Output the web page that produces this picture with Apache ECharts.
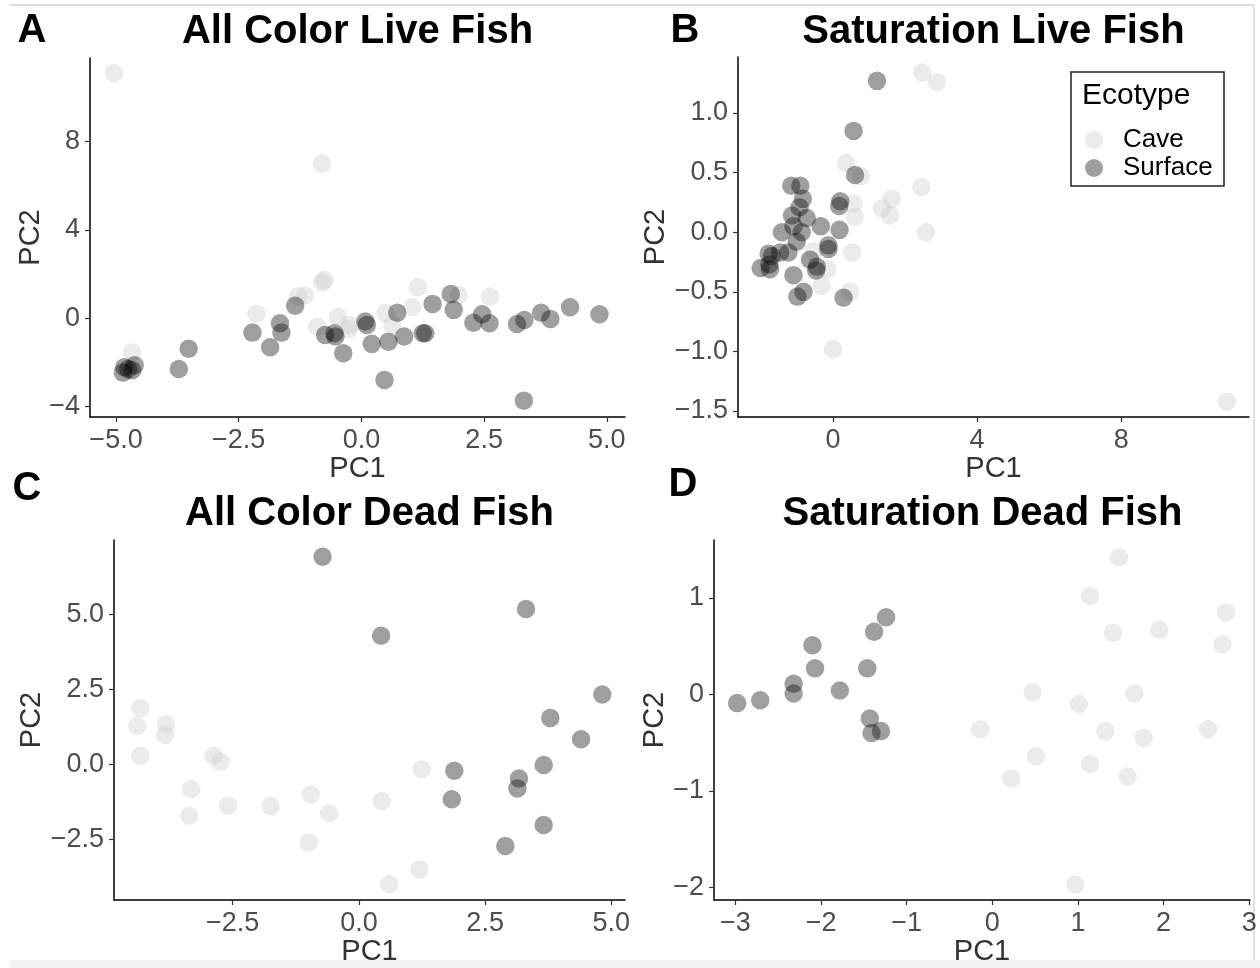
<!DOCTYPE html>
<html>
<head>
<meta charset="utf-8">
<script src="https://cdn.jsdelivr.net/npm/echarts@6.0.0/dist/echarts.min.js"></script>
<style>
  html, body { margin: 0; padding: 0; background: #fff; }
  #main { width: 1260px; height: 968px; }
</style>
</head>
<body>
<div id="main"></div>
<script>
// A: all color, live fish  [PC1, PC2]
var liveAllCave = [[-5.04, 11.1], [-0.81, 7.0], [-0.75, 1.73], [-0.80, 1.62], [-1.29, 0.99], [-1.15, 1.03],
  [-2.14, 0.2], [-0.90, -0.38], [-0.48, 0.07], [-0.24, -0.3], [-0.26, -0.5], [0.49, 0.24], [0.63, -0.3],
  [1.03, 0.51], [1.15, 1.4], [1.98, 1.05], [2.62, 0.98], [-4.67, -1.55]];
var liveAllSurface = [[-4.86, -2.46], [-4.83, -2.22], [-4.75, -2.3], [-4.67, -2.35], [-4.62, -2.13], [-3.72, -2.3],
  [-3.52, -1.38], [-2.22, -0.65], [-1.86, -1.31], [-1.66, -0.23], [-1.63, -0.65], [-1.35, 0.57], [-0.74, -0.76],
  [-0.55, -0.68], [-0.53, -0.83], [-0.37, -1.58], [0.08, -0.15], [0.11, -0.3], [0.21, -1.16], [0.47, -2.79],
  [0.55, -1.06], [0.73, 0.25], [0.87, -0.83], [1.25, -0.68], [1.30, -0.68], [1.45, 0.65], [1.82, 1.1], [1.88, 0.38],
  [2.28, -0.2], [2.46, 0.18], [2.61, -0.23], [3.17, -0.26], [3.31, -3.73], [3.32, -0.08], [3.66, 0.25],
  [3.85, -0.03], [4.25, 0.5], [4.85, 0.18]];

// B: saturation, live fish
var liveSatCave = [[2.48, 1.34], [2.88, 1.26], [10.94, -1.42], [0.36, 0.58], [0.77, 0.47], [2.45, 0.38], [1.63, 0.28],
  [1.36, 0.2], [1.58, 0.14], [0.57, 0.24], [0.6, 0.13], [2.58, 0.0], [0.53, -0.17], [0.0, -0.98], [0.47, -0.5],
  [-0.32, -0.45], [-0.16, -0.31], [-0.54, -0.16]];
var liveSatSurface = [[1.22, 1.27], [0.57, 0.85], [0.61, 0.48], [-1.16, 0.39], [-0.91, 0.39], [-0.84, 0.28],
  [-0.93, 0.21], [0.20, 0.26], [0.17, 0.22], [-1.14, 0.14], [-0.73, 0.12], [-1.10, 0.05], [-0.34, 0.05], [0.18, 0.02],
  [-1.42, 0.0], [-0.87, 0.0], [-1.01, -0.08], [-0.13, -0.11], [-0.13, -0.14], [-1.47, -0.17], [-1.24, -0.17],
  [-1.79, -0.18], [-1.70, -0.2], [-2.01, -0.3], [-1.77, -0.27], [-1.75, -0.31], [-0.64, -0.23], [-0.45, -0.29],
  [-0.47, -0.32], [-1.10, -0.36], [-0.82, -0.5], [-0.99, -0.54], [0.29, -0.55]];

// C: all color, dead fish
var deadAllCave = [[-4.33, 1.86], [-4.39, 1.27], [-3.82, 1.32], [-3.84, 0.97], [-4.33, 0.28], [-2.88, 0.28],
  [-2.74, 0.08], [-3.32, -0.83], [-3.36, -1.72], [-2.59, -1.39], [-1.75, -1.4], [-0.95, -1.01], [-0.59, -1.64],
  [-0.99, -2.61], [0.45, -1.23], [1.24, -0.17], [1.2, -3.51], [0.6, -4.0]];
var deadAllSurface = [[-0.72, 6.91], [0.44, 4.28], [3.31, 5.17], [4.82, 2.32], [3.79, 1.54], [4.40, 0.83],
  [3.66, -0.03], [1.89, -0.22], [3.17, -0.48], [3.14, -0.81], [1.84, -1.17], [3.66, -2.03], [2.90, -2.73]];

// D: saturation, dead fish
var deadSatCave = [[1.48, 1.42], [1.14, 1.02], [2.73, 0.85], [2.69, 0.52], [1.41, 0.64], [1.95, 0.67], [0.47, 0.02],
  [1.66, 0.01], [1.01, -0.1], [-0.14, -0.36], [1.32, -0.38], [1.77, -0.45], [2.52, -0.36], [0.51, -0.64],
  [1.14, -0.72], [1.58, -0.85], [0.22, -0.87], [0.97, -1.97]];
var deadSatSurface = [[-2.98, -0.09], [-2.71, -0.06], [-2.32, 0.11], [-2.32, 0.01], [-2.10, 0.51], [-2.07, 0.27],
  [-1.78, 0.04], [-1.46, 0.27], [-1.38, 0.65], [-1.24, 0.8], [-1.43, -0.25], [-1.41, -0.4], [-1.30, -0.38]];

// tick values
var ticksAx = [-5, -2.5, 0, 2.5, 5], ticksAy = [-4, 0, 4, 8];
var ticksBx = [0, 4, 8], ticksBy = [-1.5, -1, -0.5, 0, 0.5, 1];
var ticksCx = [-2.5, 0, 2.5, 5], ticksCy = [-2.5, 0, 2.5, 5];
var ticksDx = [-3, -2, -1, 0, 1, 2, 3], ticksDy = [-2, -1, 0, 1];

var FONT = 'Liberation Sans, Arial, sans-serif';
var caveColor = 'rgba(204,204,204,0.5)';
var surfColor = 'rgba(0,0,0,0.47)';

function fmt (v, dec) {
  var s = Math.abs(v).toFixed(dec);
  return v < 0 ? '\u2212' + s : s;
}

function makeAxis (idx, min, max, ticks, dec, name, gap) {
  return {
    type: 'value', gridIndex: idx, min: min, max: max,
    name: name, nameLocation: 'middle', nameGap: gap,
    nameTextStyle: { fontFamily: FONT, fontSize: 29, color: '#333' },
    splitLine: { show: false },
    axisLine: { show: true, onZero: false, lineStyle: { color: '#000', width: 1.5 } },
    axisTick: { show: true, customValues: ticks, length: 5, lineStyle: { color: '#333', width: 1.2 } },
    axisLabel: {
      customValues: ticks, margin: 10, fontFamily: FONT, fontSize: 27, color: '#4d4d4d',
      formatter: function (v) { return fmt(v, dec); }
    }
  };
}

function scatter (name, idx, data, color) {
  return {
    type: 'scatter', name: name, xAxisIndex: idx, yAxisIndex: idx, data: data,
    symbol: 'circle', symbolSize: 18.5,
    itemStyle: { color: color },
    emphasis: { disabled: true }
  };
}

function label (text, x, y, size) {
  return {
    type: 'text', x: x, y: y, z: 10,
    style: { text: text, font: 'bold ' + size + 'px ' + FONT, fill: '#000', textAlign: 'center', textVerticalAlign: 'middle' }
  };
}

var chart = echarts.init(document.getElementById('main'));
chart.setOption({
  animation: false,
  backgroundColor: '#fff',
  grid: [
    { left: 90, top: 58, width: 535, height: 359, outerBoundsMode: 'none' },
    { left: 738, top: 57, width: 511, height: 360, outerBoundsMode: 'none' },
    { left: 114, top: 540, width: 511, height: 360, outerBoundsMode: 'none' },
    { left: 714, top: 540, width: 536, height: 360, outerBoundsMode: 'none' }
  ],
  xAxis: [
    makeAxis(0, -5.53, 5.37, ticksAx, 1, 'PC1', 37),
    makeAxis(1, -2.64, 11.55, ticksBx, 0, 'PC1', 37),
    makeAxis(2, -4.85, 5.27, ticksCx, 1, 'PC1', 37),
    makeAxis(3, -3.25, 3.01, ticksDx, 0, 'PC1', 37)
  ],
  yAxis: [
    makeAxis(0, -4.47, 11.78, ticksAy, 0, 'PC2', 44),
    makeAxis(1, -1.55, 1.47, ticksBy, 1, 'PC2', 67),
    makeAxis(2, -4.53, 7.47, ticksCy, 1, 'PC2', 67),
    makeAxis(3, -2.13, 1.60, ticksDy, 0, 'PC2', 44)
  ],
  legend: {
    orient: 'vertical', left: 1080, top: 122, itemGap: 2,
    itemWidth: 48, itemHeight: 18, icon: 'circle',
    textStyle: { fontFamily: FONT, fontSize: 26, color: '#000' },
    data: ['Cave', 'Surface']
  },
  graphic: [
    { type: 'line', shape: { x1: 10, y1: 5, x2: 1254, y2: 5 }, style: { stroke: '#d0d0d0', lineWidth: 1.5 } },
    { type: 'line', shape: { x1: 1254, y1: 5, x2: 1254, y2: 960 }, style: { stroke: '#d8d8d8', lineWidth: 1.5 } },
    { type: 'rect', shape: { x: 10, y: 960, width: 1250, height: 8 }, style: { fill: '#f4f4f4' } },
    label('A', 32, 31, 40), label('B', 685, 31, 40), label('C', 27, 489, 40), label('D', 683, 485, 40),
    label('All Color Live Fish', 357.5, 32, 40),
    label('Saturation Live Fish', 993.5, 32, 40),
    label('All Color Dead Fish', 369.5, 514, 40),
    label('Saturation Dead Fish', 982.5, 514, 40),
    { type: 'rect', shape: { x: 1071, y: 72, width: 153, height: 114 }, style: { fill: 'none', stroke: '#222', lineWidth: 1.5 } },
    { type: 'text', x: 1082, y: 96, style: { text: 'Ecotype', font: '30px ' + FONT, fill: '#000', textAlign: 'left', textVerticalAlign: 'middle' } }
  ],
  series: [
    scatter('Cave', 0, liveAllCave, caveColor), scatter('Surface', 0, liveAllSurface, surfColor),
    scatter('Cave', 1, liveSatCave, caveColor), scatter('Surface', 1, liveSatSurface, surfColor),
    scatter('Cave', 2, deadAllCave, caveColor), scatter('Surface', 2, deadAllSurface, surfColor),
    scatter('Cave', 3, deadSatCave, caveColor), scatter('Surface', 3, deadSatSurface, surfColor)
  ]
});
</script>
</body>
</html>
